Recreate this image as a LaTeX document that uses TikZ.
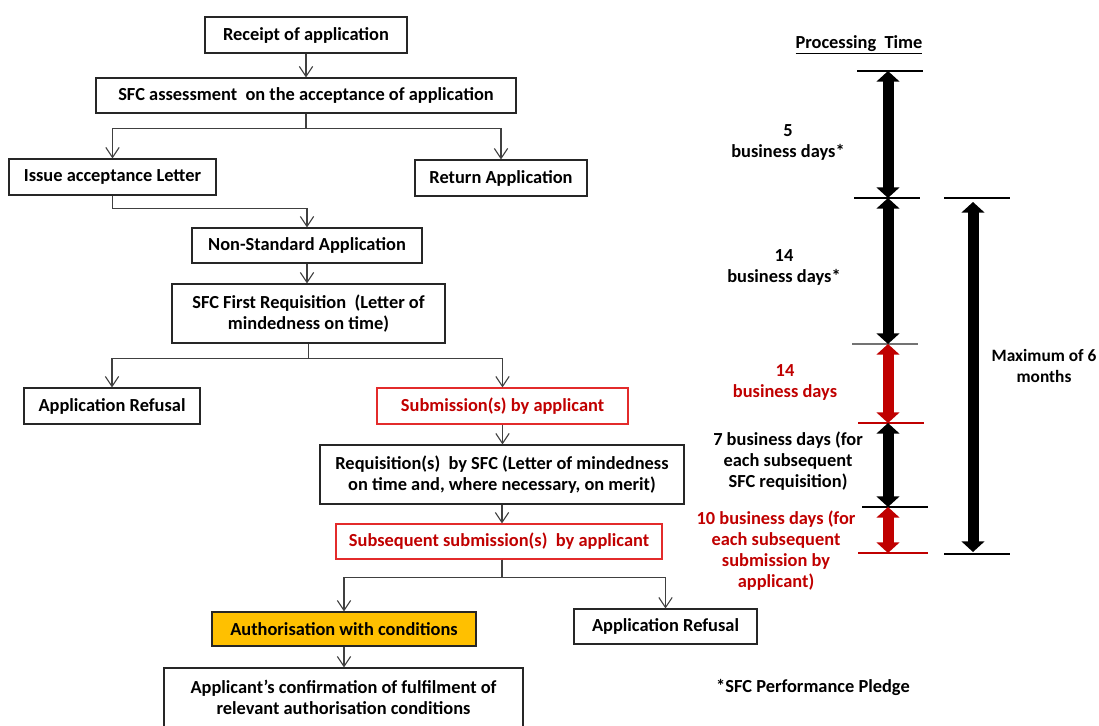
\documentclass[tikz,border=0pt]{standalone}
\usepackage{fontspec}
\setmainfont{Carlito}
\usetikzlibrary{arrows.meta}
\definecolor{darkred}{HTML}{C00000}
\definecolor{boxred}{HTML}{E32B2B}
\definecolor{amber}{HTML}{FFC000}
\definecolor{linegray}{HTML}{404040}

\begin{document}
\begin{tikzpicture}[x=0.75pt, y=-0.75pt,
  every node/.style={font=\bfseries\fontsize{13.8pt}{15.75pt}\selectfont, align=center},
  box/.style={draw=black!85, line width=0.9pt, inner sep=0pt},
  redbox/.style={box, draw=boxred, text=darkred},
  conn/.style={draw=linegray, line width=0.8pt, -{Straight Barb[length=7.5pt,width=10pt]}},
  tick/.style={line width=0.8pt},
  span/.style={line width=8.25pt, {Triangle[width=17pt,length=8pt]}-{Triangle[width=17pt,length=8pt]}}]

\useasboundingbox (0,0) rectangle (1099,725);

\node[box, minimum width=151.5pt, minimum height=27pt] (receipt) at (306,35) {Receipt of application};
\node[box, minimum width=315pt, minimum height=26.25pt] (assess) at (306,95.5) {SFC assessment\ \ on the acceptance of application};
\node[box, minimum width=155.25pt, minimum height=27pt] (accept) at (112.5,177) {Issue acceptance Letter};
\node[box, minimum width=129pt, minimum height=27pt] (return) at (501,178) {Return Application};
\node[box, minimum width=172.5pt, minimum height=26.25pt] (nonstd) at (307,245.5) {Non-Standard Application};
\node[box, minimum width=204.75pt, minimum height=44.25pt] (firstreq) at (308.5,313.5) {SFC First Requisition\ \ (Letter of\\mindedness on time)};
\node[box, minimum width=132pt, minimum height=27pt] (refusal) at (112,406) {Application Refusal};
\node[redbox, minimum width=188.25pt, minimum height=27pt] (submit) at (502.5,406) {Submission(s) by applicant};
\node[box, minimum width=273pt, minimum height=44.25pt] (req) at (502,474.5) {Requisition(s)\ \ by SFC (Letter of mindedness\\on time and, where necessary, on merit)};
\node[redbox, minimum width=244.5pt, minimum height=26.25pt] (subseq) at (499,541.5) {Subsequent submission(s)\ \ by applicant};
\node[box, fill=amber, minimum width=198pt, minimum height=25.5pt] (auth) at (344,629) {Authorisation with conditions};
\node[box, minimum width=137.25pt, minimum height=26.25pt] (refusaltwo) at (665.5,626.5) {Application Refusal};
\node[box, minimum width=269.25pt, minimum height=44.25pt] (confirm) at (343.5,697.5) {Applicant’s confirmation of fulfilment of\\relevant authorisation conditions};

\draw[conn] (receipt) -- (receipt |- assess.north);
\draw[conn] (assess.south) -- ++(0,15) -| (accept.north);
\draw[conn] (assess.south) -- ++(0,15) -| (return.north);
\draw[conn] (accept.south) -- ++(0,13) -| (nonstd.north);
\draw[conn] (nonstd) -- (nonstd |- firstreq.north);
\draw[conn] (firstreq.south) -- ++(0,15) -| (refusal.north);
\draw[conn] (firstreq.south) -- ++(0,15) -| (submit.north);
\draw[conn] (submit) -- (submit |- req.north);
\draw[conn] (req.south) -- (req.south |- subseq.north);
\draw[conn] (req.south |- subseq.south) -- ++(0,18) -| (auth.north);
\draw[conn] (req.south |- subseq.south) -- ++(0,18) -| (refusaltwo.north);
\draw[conn] (auth) -- (auth |- confirm.north);

\node[anchor=base] (ptime) at (859,48) {\underline{Processing\ \ Time}};

\coordinate (s0) at (888,71);
\coordinate (s1) at (888,198);
\coordinate (s2) at (888,344);
\coordinate (s3) at (888,423);
\coordinate (s4) at (888,507);
\coordinate (s5) at (888,553);
\coordinate (m0) at (973,198);
\coordinate (m1) at (973,554);

\draw[tick] (s0) ++(-31,0) -- ++(66,0);
\draw[tick] (s1) ++(-34,0) -- ++(66,0);
\draw[tick, black!55] (s2) ++(-36,0) -- ++(66,0);
\draw[tick, darkred] (s3) ++(-30,0) -- ++(66,0);
\draw[tick] (s4) ++(-26,0) -- ++(66,0);
\draw[tick, darkred] (s5) ++(-30,0) -- ++(70,0);
\draw[tick] (m0) ++(-29,0) -- ++(66,0);
\draw[tick] (m1) ++(-29,0) -- ++(66,0);

\draw[span] (s0) -- (s1);
\draw[span] (s1) -- (s2);
\draw[span, darkred] (s2) -- (s3);
\draw[span] (s3) -- (s4);
\draw[span, darkred] (s4) -- (s5);
\draw[span, shorten <=3pt, shorten >=1.5pt] (m0) -- (m1);

\node (fivedays) at (788,142.5) {5\\business days*};
\node (fourteendays) at (784,267.5) {14\\business days*};
\node[text=darkred] (fourteenred) at (785,382.5) {14\\business days};
\node (sevendays) at (788,461) {7 business days (for\\each subsequent\\SFC requisition)};
\node[text=darkred] (tendays) at (776,551) {10 business days (for\\each subsequent\\submission by\\applicant)};
\node[font=\bfseries\fontsize{13pt}{15.75pt}\selectfont] (maxsix) at (1044,365.5) {Maximum of 6\\months};
\node (pledge) at (813,687) {*SFC Performance Pledge};

\end{tikzpicture}
\end{document}
